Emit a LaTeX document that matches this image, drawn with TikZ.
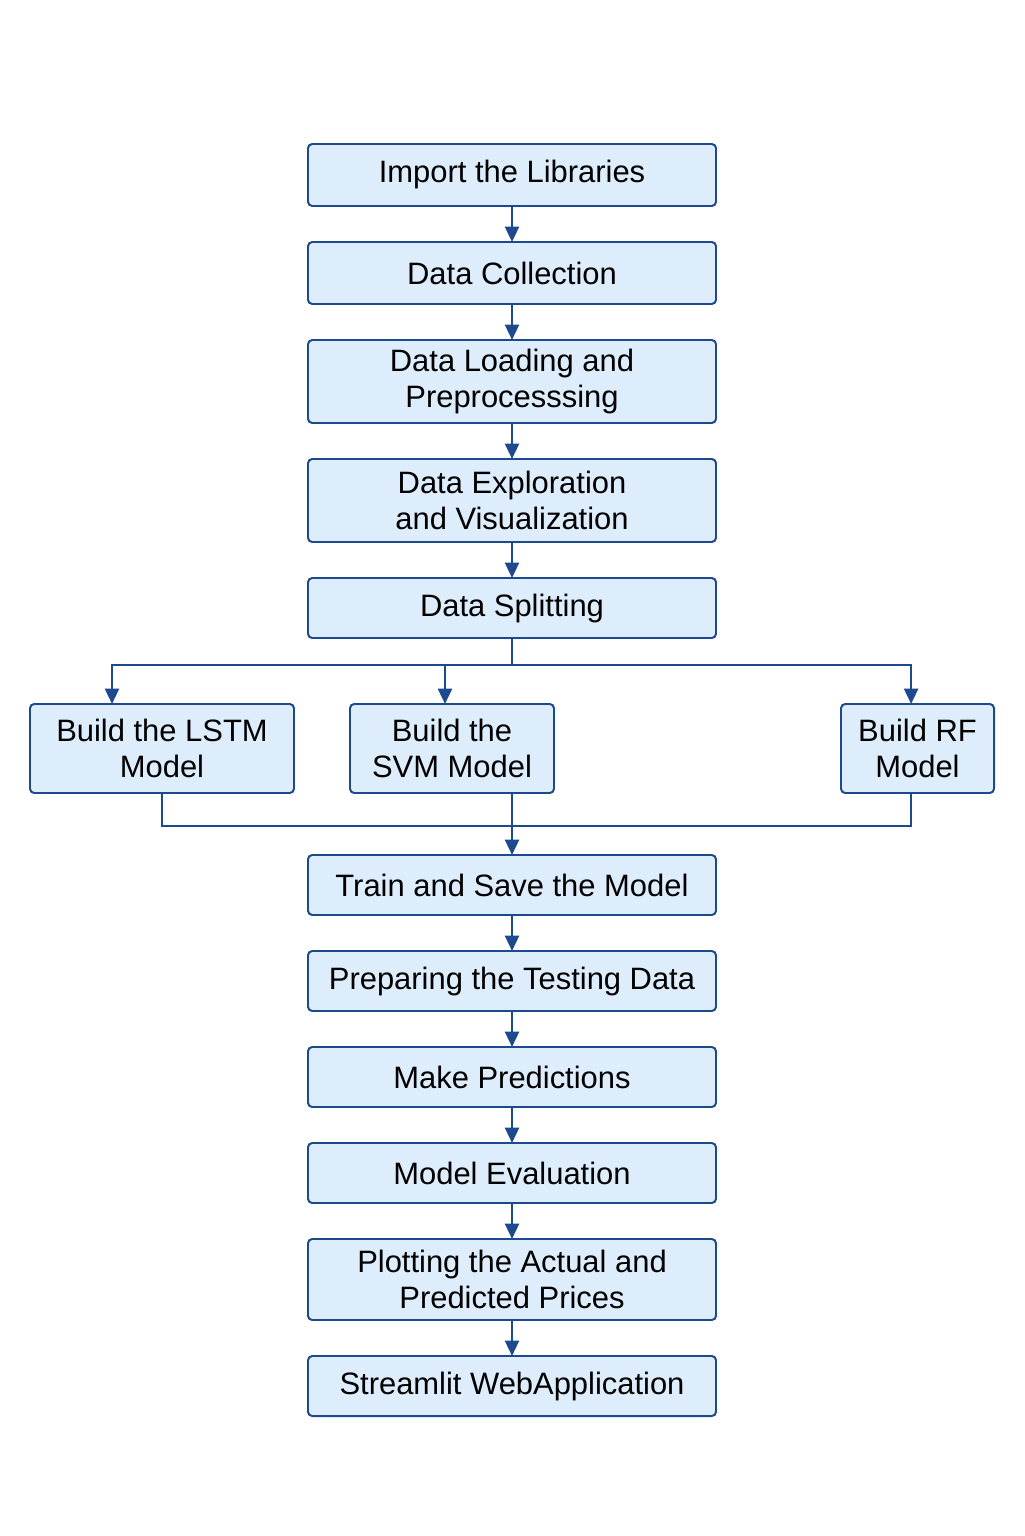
\documentclass[tikz,border=0pt]{standalone}
\usepackage{fontspec}
\setmainfont{Liberation Sans}
\usepackage{tikz}
\usetikzlibrary{shapes.geometric, arrows.meta, positioning}
\definecolor{boxfill}{HTML}{DDEDFC}
\definecolor{boxline}{HTML}{1D4A8F}
\tikzstyle{process} = [rectangle, rounded corners=3pt, outer sep=0pt, minimum width=10.2cm, minimum height=1.5cm, text centered, align=center, draw=boxline, line width=1.4pt, fill=boxfill, font=\fontsize{22}{26}\selectfont]
\tikzstyle{model} = [process, minimum height=2.225cm]
\tikzstyle{arrow} = [line width=1.8pt, draw=boxline, -{Triangle[length=11pt,width=10pt]}]
\tikzstyle{line} = [line width=1.8pt, draw=boxline]

\begin{document}
\begin{tikzpicture}[node distance=0.9cm]
\useasboundingbox (0,0) rectangle (25.6,-38.4);
% Nodes
\node (step1) [process, minimum height=1.55cm] at (12.8,-4.375) {Import the Libraries};
\node (step2) [process, minimum height=1.55cm, below=of step1] {Data Collection};
\node (step3) [process, minimum height=2.075cm, below=of step2] {Data Loading and\\Preprocesssing};
\node (step4) [process, minimum height=2.075cm, below=of step3] {Data Exploration\\and Visualization};
\node (step5) [process, below=of step4] {Data Splitting};
\node (model1) [model, minimum width=6.6cm] at (4.05,-18.7125) {Build the LSTM\\Model};
\node (model2) [model, minimum width=5.1cm] at (11.3,-18.7125) {Build the\\SVM Model};
\node (model3) [model, minimum width=3.825cm] at (22.9375,-18.7125) {Build RF\\Model};
\node (step6) [process, below=5.425cm of step5] {Train and Save the Model};
\node (step7) [process, below=of step6] {Preparing the Testing Data};
\node (step8) [process, below=of step7] {Make Predictions};
\node (step9) [process, below=of step8] {Model Evaluation};
\node (step10) [process, minimum height=2.025cm, below=of step9] {Plotting the Actual and\\Predicted Prices};
\node (step11) [process, below=of step10] {Streamlit WebApplication};

% Arrows
\draw [arrow] (step1) -- (step2);
\draw [arrow] (step2) -- (step3);
\draw [arrow] (step3) -- (step4);
\draw [arrow] (step4) -- (step5);
\coordinate (fork) at ([yshift=-0.675cm]step5.south);
\draw [line] (step5.south) -- (fork);
\draw [arrow] (fork) -| ([xshift=-1.25cm]model1.north);
\draw [arrow] (fork) -| ([xshift=-0.175cm]model2.north);
\draw [arrow] (fork) -| ([xshift=-0.16cm]model3.north);
\coordinate (merge) at ([yshift=-0.825cm]model1.south);
\draw [line] (model1.south) -- (merge) -| ([xshift=-0.16cm]model3.south);
\draw [arrow] (model2.south -| step6.north) -- (step6.north);
\draw [arrow] (step6) -- (step7);
\draw [arrow] (step7) -- (step8);
\draw [arrow] (step8) -- (step9);
\draw [arrow] (step9) -- (step10);
\draw [arrow] (step10) -- (step11);
\end{tikzpicture}
\end{document}
